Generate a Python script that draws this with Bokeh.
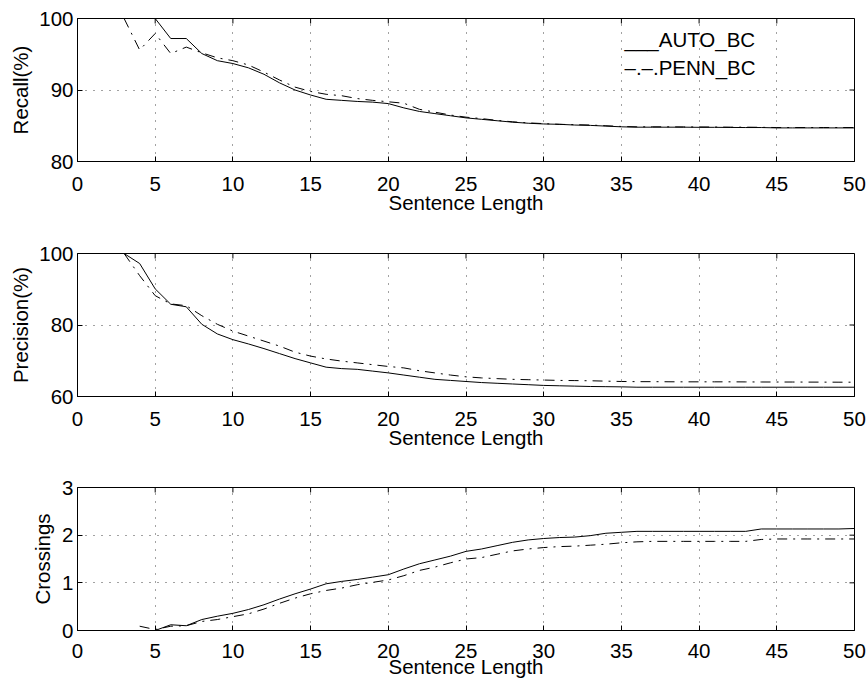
import math
from bokeh.plotting import figure
from bokeh.models import Range1d, FixedTicker
from bokeh.layouts import column
from bokeh.embed import file_html
from bokeh.resources import INLINE

# ---------------- data ----------------
sent_len = list(range(3, 51))

recall_auto = [100, 100, 100, 97.2, 97.2, 95.1, 94.1, 93.7, 93.1, 92.2,
               91.0, 90.0, 89.3, 88.7, 88.55, 88.4, 88.3, 88.1, 87.5, 87.0,
               86.7, 86.4, 86.1, 85.9, 85.7, 85.5, 85.35, 85.25, 85.2, 85.1,
               85.05, 84.95, 84.85, 84.8, 84.8, 84.8, 84.8, 84.78, 84.78, 84.76,
               84.75, 84.75, 84.7, 84.7, 84.7, 84.7, 84.7, 84.7]
recall_penn = [100, 95.6, 97.9, 95.1, 96.0, 95.2, 94.5, 94.1, 93.5, 92.5,
               91.4, 90.4, 89.8, 89.4, 89.2, 88.8, 88.55, 88.35, 88.15, 87.3,
               86.9, 86.5, 86.2, 86.0, 85.75, 85.55, 85.4, 85.3, 85.2, 85.15,
               85.1, 85.0, 84.9, 84.85, 84.85, 84.85, 84.83, 84.83, 84.82, 84.8,
               84.8, 84.78, 84.75, 84.75, 84.75, 84.75, 84.75, 84.75]

precision_auto = [100, 97.2, 90.1, 85.8, 85.1, 80.2, 77.5, 75.9, 74.7, 73.4,
                  72.0, 70.6, 69.4, 68.2, 67.8, 67.6, 67.1, 66.6, 66.0, 65.4,
                  64.8, 64.5, 64.2, 63.9, 63.7, 63.5, 63.3, 63.1, 63.0, 62.9,
                  62.8, 62.75, 62.7, 62.6, 62.6, 62.6, 62.6, 62.6, 62.6, 62.6,
                  62.6, 62.6, 62.6, 62.6, 62.6, 62.6, 62.6, 62.6]
precision_penn = [100, 93.8, 88.2, 85.9, 85.4, 82.6, 80.2, 78.3, 76.9, 75.5,
                  74.1, 72.4, 71.3, 70.5, 69.9, 69.4, 68.9, 68.4, 68.0, 67.2,
                  66.6, 66.0, 65.5, 65.2, 65.0, 64.8, 64.7, 64.6, 64.5, 64.45,
                  64.4, 64.3, 64.2, 64.15, 64.15, 64.12, 64.1, 64.1, 64.1, 64.1,
                  64.08, 64.06, 64.05, 64.05, 64.03, 64.02, 64.0, 64.0]

crossings_auto = [0, 0, 0, 0.12, 0.1, 0.23, 0.30, 0.36, 0.44, 0.54,
                  0.66, 0.77, 0.87, 0.98, 1.03, 1.07, 1.12, 1.17, 1.29, 1.40,
                  1.48, 1.56, 1.66, 1.71, 1.78, 1.85, 1.90, 1.93, 1.95, 1.96,
                  1.99, 2.04, 2.06, 2.08, 2.08, 2.08, 2.08, 2.08, 2.08, 2.08,
                  2.08, 2.13, 2.13, 2.13, 2.13, 2.13, 2.13, 2.14]
sent_len_penn_cross = list(range(4, 51))
crossings_penn = [0.09, 0.02, 0.09, 0.1, 0.19, 0.23, 0.29, 0.35, 0.45,
                  0.57, 0.68, 0.77, 0.84, 0.89, 0.96, 1.01, 1.06, 1.15, 1.26,
                  1.33, 1.42, 1.50, 1.53, 1.60, 1.67, 1.71, 1.74, 1.76, 1.77,
                  1.79, 1.81, 1.84, 1.86, 1.87, 1.87, 1.87, 1.87, 1.87, 1.87,
                  1.87, 1.91, 1.92, 1.92, 1.92, 1.92, 1.92, 1.92]

x_ticks = [0, 5, 10, 15, 20, 25, 30, 35, 40, 45, 50]
recall_ticks = [80, 90, 100]
precision_ticks = [60, 80, 100]
crossing_ticks = [0, 1, 2, 3]

x_label = "Sentence Length"
legend_auto = "___AUTO_BC"
legend_penn = "\u2013.\u2013.PENN_BC"

FONT = "Liberation Sans"
FS = "20.5px"
DASH = "10 6 2 6"
XMAX = 50


def style_axis(ax, ticks):
    ax.ticker = FixedTicker(ticks=ticks)
    ax.axis_line_color = "black"
    ax.axis_line_width = 1
    ax.major_tick_in = 5
    ax.major_tick_out = 0
    ax.major_tick_line_color = "black"
    ax.minor_tick_line_color = None
    ax.major_label_text_font = FONT
    ax.major_label_text_font_size = FS
    ax.major_label_text_color = "black"
    ax.axis_label_text_font = FONT
    ax.axis_label_text_font_size = FS
    ax.axis_label_text_font_style = "normal"
    ax.axis_label_text_color = "black"


def make_fig(height, yr, yticks, ylabel, top, bottom, xstand, xlstand, ylstand):
    p = figure(width=867, height=height, x_range=Range1d(0, XMAX),
               y_range=Range1d(*yr), output_backend="svg",
               toolbar_location=None, min_border_left=77,
               min_border_right=13, min_border_top=top,
               min_border_bottom=bottom)
    p.outline_line_color = "black"
    p.outline_line_width = 1
    xa = p.xaxis[0]
    style_axis(xa, x_ticks)
    xa.major_label_standoff = xstand
    xa.axis_label = x_label
    xa.axis_label_standoff = xlstand
    ya = p.yaxis[0]
    style_axis(ya, yticks)
    ya.major_label_standoff = 4
    ya.axis_label = ylabel
    ya.axis_label_standoff = ylstand
    for g, t in ((p.xgrid[0], x_ticks), (p.ygrid[0], yticks)):
        g.ticker = FixedTicker(ticks=t)
        g.grid_line_color = "#444444"
        g.grid_line_dash = "1 7"
        g.grid_line_width = 1
    # mirrored inward ticks on the top and right edges of the box
    p.ray(x=x_ticks, y=[yr[1]] * len(x_ticks), length=5, length_units="screen",
          angle=-math.pi / 2, line_color="black", line_width=1)
    p.ray(x=[XMAX] * len(yticks), y=yticks, length=5, length_units="screen",
          angle=math.pi, line_color="black", line_width=1)
    return p


p1 = make_fig(241, (80, 100), recall_ticks, "Recall(%)", 18, 80, 15, -3, 4)
p1.line(sent_len, recall_auto, line_color="black", line_width=1)
p1.line(sent_len, recall_penn, line_color="black", line_width=1, line_dash=DASH)
p1.text(x=[35.2, 35.2], y=[97.0, 93.1], text=[legend_auto, legend_penn],
        text_font={"value": FONT}, text_font_size={"value": FS},
        text_color="black", text_baseline="alphabetic", text_align="left")

p2 = make_fig(234, (60, 100), precision_ticks, "Precision(%)", 12, 79, 15, -3, 4)
p2.line(sent_len, precision_auto, line_color="black", line_width=1)
p2.line(sent_len, precision_penn, line_color="black", line_width=1, line_dash=DASH)

p3 = make_fig(205, (0, 3), crossing_ticks, "Crossings", 12, 50, 13, -6, 5)
p3.line(sent_len, crossings_auto, line_color="black", line_width=1)
p3.line(sent_len_penn_cross, crossings_penn, line_color="black", line_width=1,
        line_dash=DASH)

layout = column(p1, p2, p3, spacing=0)
open("out.html", "w").write(file_html(layout, INLINE))
